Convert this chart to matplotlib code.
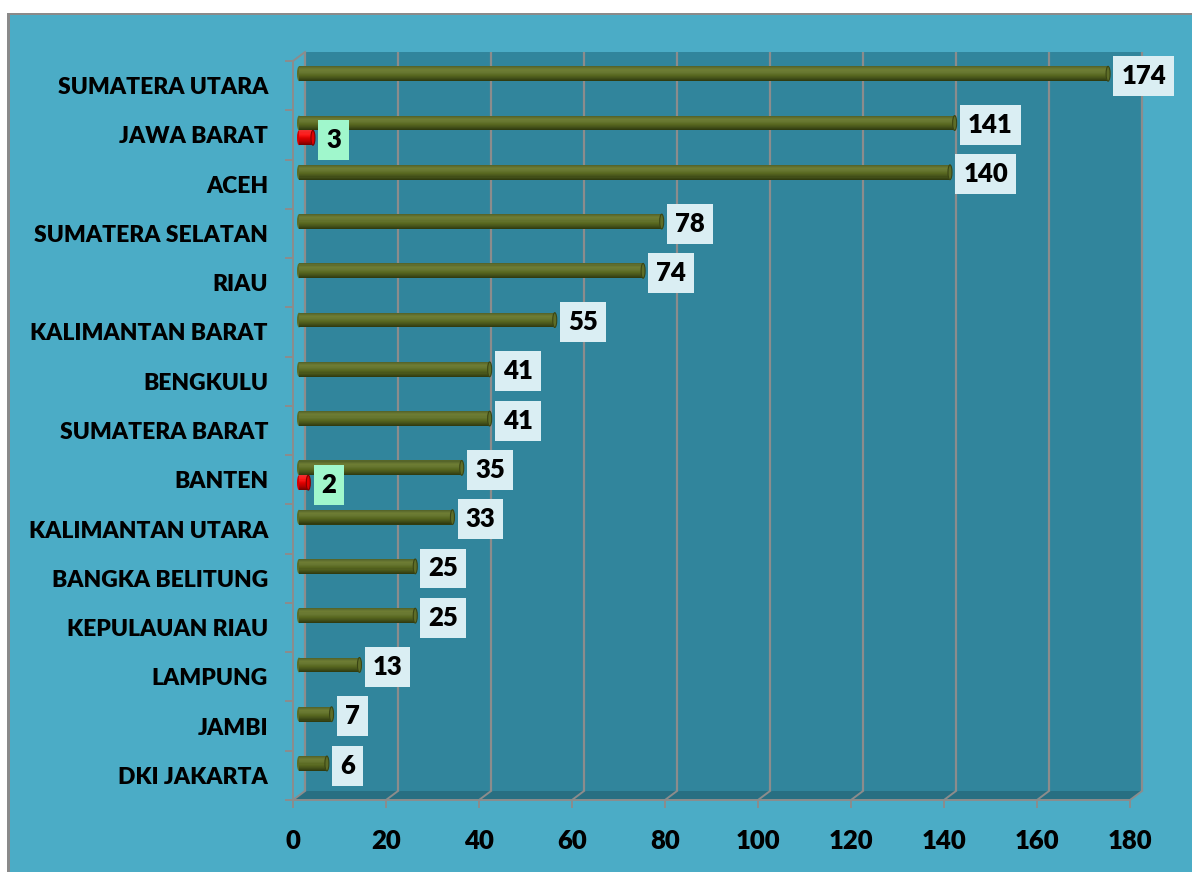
import numpy as np
import matplotlib
matplotlib.use("Agg")
import matplotlib.pyplot as plt
from matplotlib.patches import Rectangle, Polygon, Ellipse
from matplotlib.colors import to_rgb

# ---------------- data ----------------
categories = ["SUMATERA UTARA", "JAWA BARAT", "ACEH", "SUMATERA SELATAN", "RIAU",
              "KALIMANTAN BARAT", "BENGKULU", "SUMATERA BARAT", "BANTEN",
              "KALIMANTAN UTARA", "BANGKA BELITUNG", "KEPULAUAN RIAU", "LAMPUNG",
              "JAMBI", "DKI JAKARTA"]
series_green = [174, 141, 140, 78, 74, 55, 41, 41, 35, 33, 25, 25, 13, 7, 6]
series_red = [0, 3, 0, 0, 0, 0, 0, 0, 2, 0, 0, 0, 0, 0, 0]
x_ticks = [0, 20, 40, 60, 80, 100, 120, 140, 160, 180]

# ---------------- style ----------------
FONT = "Lato"
WEIGHT = "heavy"
OUTER = "#4BACC6"
WALL = "#31859C"
FLOOR = "#286F82"
GRID = "#8C8C8C"
W, H = 1192, 872

fig = plt.figure(figsize=(W / 100, H / 100), dpi=100)
fig.patch.set_facecolor("white")
fig.patches.append(Rectangle((7 / W, 0), 1, 1 - 13 / H, transform=fig.transFigure,
                             facecolor="#8A8A8A", edgecolor="none", zorder=-10))
fig.patches.append(Rectangle((10 / W, 0), 1, 1 - 15 / H, transform=fig.transFigure,
                             facecolor=OUTER, edgecolor="none", zorder=-9))

L, R, T, B = 293, 1130, 61, 800
ax = fig.add_axes([L / W, 1 - B / H, (R - L) / W, (B - T) / H])
ax.set_facecolor("none")
n = len(categories)
ax.set_xlim(0, 180)
ax.set_ylim(n - 0.5, -0.5)

pxx = (R - L) / 180.0
pxy = (B - T) / n
DX = 12 / pxx
DY = -9 / pxy

ax.add_patch(Rectangle((DX, -0.5 + DY), 180, n, facecolor=WALL, edgecolor="none",
                       zorder=0, clip_on=False))
ax.add_patch(Polygon([(0, n - 0.5), (180, n - 0.5), (180 + DX, n - 0.5 + DY),
                      (DX, n - 0.5 + DY)], closed=True, facecolor=FLOOR,
                     edgecolor="none", zorder=0.5, clip_on=False))
for v in x_ticks:
    ax.plot([v + DX, v + DX], [-0.5 + DY, n - 0.5 + DY], color=GRID, lw=1.6,
            zorder=1, clip_on=False, solid_capstyle="butt")
    ax.plot([v, v + DX], [n - 0.5, n - 0.5 + DY], color=GRID, lw=1.4,
            zorder=1, clip_on=False)
ax.plot([0, DX], [-0.5, -0.5 + DY], color=GRID, lw=1.4, zorder=1, clip_on=False)


def grad(colors, m):
    cs = np.array([to_rgb(c) for c in colors])
    t = np.linspace(0, 1, len(cs))
    tt = np.linspace(0, 1, m)
    return [tuple(np.interp(v, t, cs[:, k]) for k in range(3)) for v in tt]


green_grad = grad(["#56652A", "#6E7D34", "#667630", "#58671F", "#46541A", "#313C10"], 14)
red_grad = grad(["#F03030", "#FF1A1A", "#DD0000", "#B50000", "#7A0000"], 14)

BH = 0.3
cap_w = 4 / pxx


def cylinder(yc, v, cols, cap_face, cap_edge):
    x0 = DX / 2
    yc = yc + DY / 2
    m = len(cols)
    hs = BH / m
    ax.add_patch(Ellipse((x0, yc), cap_w, BH, facecolor=cols[m // 2], edgecolor="none",
                         zorder=3, clip_on=False))
    for k, c in enumerate(cols):
        ys = yc - BH / 2 + hs * (k + 0.5)
        ax.barh(ys, v, left=x0, height=hs * 1.05, color=c, edgecolor="none",
                zorder=3, clip_on=False)
    ax.add_patch(Ellipse((x0 + v, yc), cap_w, BH, facecolor=cap_face, edgecolor=cap_edge,
                         lw=0.8, zorder=4, clip_on=False))
    return x0 + v, yc


LABEL_FS = 18.5
for i, (g, r) in enumerate(zip(series_green, series_red)):
    if g:
        xe, ye = cylinder(i - 0.15, g, green_grad, "#5E6D28", "#3A4514")
        ax.annotate(str(g), xy=(xe, ye), xytext=(9.5, -1.5), textcoords="offset points",
                    ha="left", va="center", fontsize=LABEL_FS, fontweight=WEIGHT,
                    family=FONT, color="black", zorder=6, annotation_clip=False,
                    bbox=dict(boxstyle="square,pad=0.31", facecolor="#DAEEF3",
                              edgecolor="none"))
    if r:
        xe, ye = cylinder(i + 0.15, r, red_grad, "#E00000", "#800000")
        ax.annotate(str(r), xy=(xe, ye), xytext=(9.5, -1.5), textcoords="offset points",
                    ha="left", va="center", fontsize=LABEL_FS, fontweight=WEIGHT,
                    family=FONT, color="black", zorder=6, annotation_clip=False,
                    bbox=dict(boxstyle="square,pad=0.31", facecolor="#A0F7CC",
                              edgecolor="none"))

for s in ["top", "right"]:
    ax.spines[s].set_visible(False)
for s in ["left", "bottom"]:
    ax.spines[s].set_color(GRID)
    ax.spines[s].set_linewidth(1.4)
    ax.spines[s].set_zorder(2)

ax.set_yticks(range(n))
ax.set_yticklabels(categories, fontsize=16.5, fontweight=WEIGHT, family=FONT)
ax.set_yticks(np.arange(-0.5, n, 1.0), minor=True)
ax.tick_params(axis="y", which="major", length=0, pad=18)
ax.tick_params(axis="y", which="minor", length=6, width=1.4, color=GRID)
ax.set_xticks(x_ticks)
ax.set_xticklabels([str(v) for v in x_ticks], fontsize=18.5, fontweight=WEIGHT, family=FONT)
ax.tick_params(axis="x", which="major", length=6, width=1.4, color=GRID, pad=15)

fig.savefig("out.png", dpi=100, facecolor=fig.get_facecolor())
